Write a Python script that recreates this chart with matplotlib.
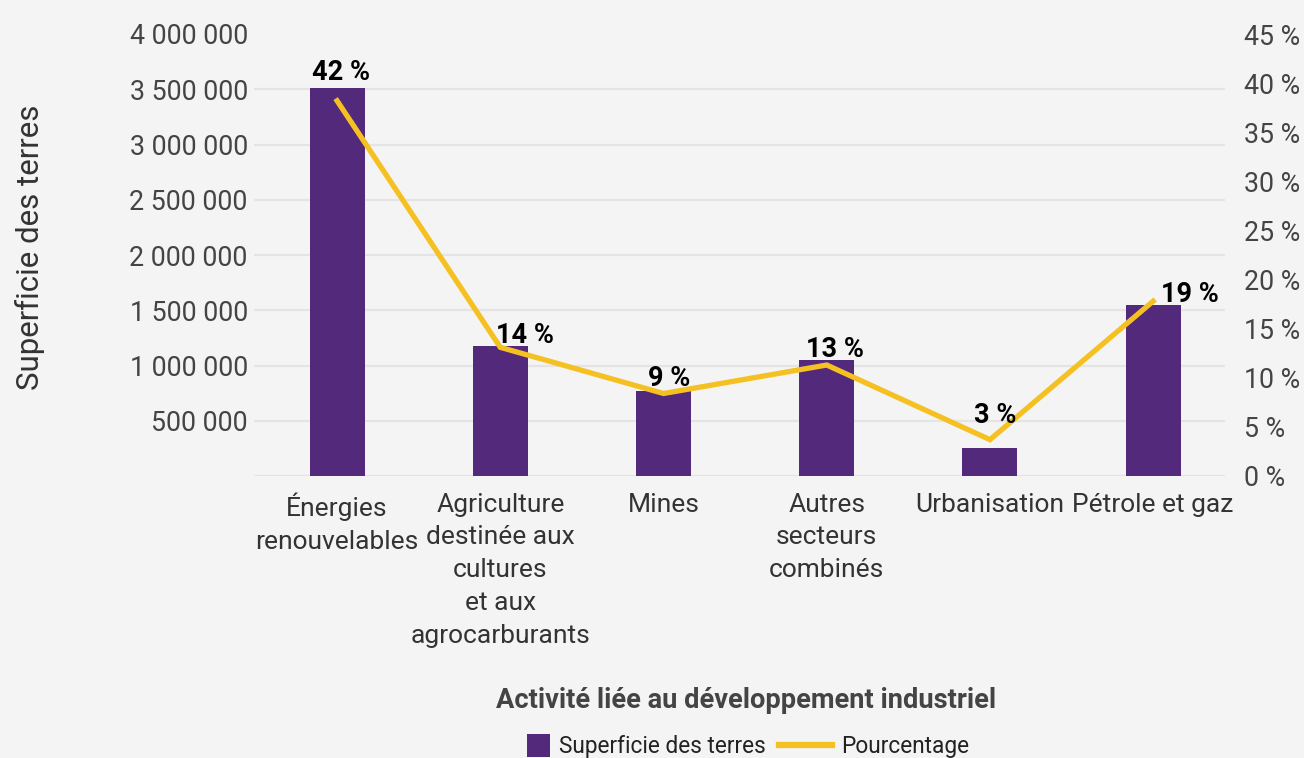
import matplotlib
matplotlib.use("Agg")
import matplotlib.pyplot as plt
from matplotlib.patches import Patch, Rectangle
from matplotlib.lines import Line2D
from matplotlib.legend_handler import HandlerPatch, HandlerLine2D

plt.rcParams['font.family'] = ['Roboto', 'DejaVu Sans']

categories = ["Énergies\nrenouvelables",
              "Agriculture\ndestinée aux\ncultures\net aux\nagrocarburants",
              "Mines",
              "Autres\nsecteurs\ncombinés",
              "Urbanisation",
              "Pétrole et gaz"]
superficie = [3510000, 1175000, 765000, 1050000, 255000, 1550000]
pourcentage_line = [38.2, 13.1, 8.4, 11.3, 3.7, 17.8]
pourcentage_labels = [42, 14, 9, 13, 3, 19]
left_ticks = [500000, 1000000, 1500000, 2000000, 2500000, 3000000, 3500000, 4000000]
right_ticks = [0, 5, 10, 15, 20, 25, 30, 35, 40, 45]

BG = "#f4f4f4"
PURPLE = "#52297b"
YELLOW = "#f5c122"
GRID = "#e4e4e4"
TXT = "#444444"

W, H = 1304, 758
fig = plt.figure(figsize=(W / 100, H / 100), dpi=100, facecolor=BG)
ax = fig.add_axes([254 / W, 1 - 476 / H, (1225 - 254) / W, (476 - 34) / H])
ax.set_facecolor(BG)
x = list(range(len(categories)))
ax.bar(x, superficie, width=0.337, color=PURPLE, zorder=3)
ax.set_xlim(-0.509, 5.44)
ax.set_ylim(0, 4000000)
ax.set_yticks(left_ticks)
ax.set_yticklabels([f"{v:,}".replace(",", " ") for v in left_ticks])
ax.set_xticks(x)
ax.set_xticklabels(categories, linespacing=1.46)
ax.tick_params(axis='x', length=0, pad=12, labelsize=19, colors="#333333")
ax.tick_params(axis='y', length=0, pad=4.5, labelsize=19.3, colors=TXT)
for s in ax.spines.values():
    s.set_visible(False)
ax.yaxis.grid(True, color=GRID, lw=1.6, zorder=0)
ax.set_axisbelow(True)
ax.get_ygridlines()[-1].set_visible(False)
ax.axhline(0, color=GRID, lw=1.6, zorder=1)

ax2 = ax.twinx()
ax2.set_ylim(0, 45)
ax2.plot(x, pourcentage_line, color=YELLOW, lw=3.8, zorder=4, solid_joinstyle='miter')
ax2.set_yticks(right_ticks)
ax2.set_yticklabels([f"{v} %" for v in right_ticks])
ax2.tick_params(axis='y', length=0, pad=14, labelsize=19.3, colors=TXT)
for s in ax2.spines.values():
    s.set_visible(False)

label_offsets = [(4, 28), (25, 12), (6, 15), (8, 16), (5, 24), (37, 7)]
for xi, v, lab, (dx, dy) in zip(x, pourcentage_line, pourcentage_labels, label_offsets):
    ax2.annotate(f"{lab} %", (xi, v), xytext=(dx * 0.72, dy * 0.72), textcoords='offset points',
                 ha='center', va='center', fontsize=19.5, fontweight='bold', color='black', zorder=5)

fig.text(30 / W, 1 - 247 / H, "Superficie des terres", rotation=90, ha='center', va='center',
         fontsize=22.5, color="#333333")
fig.text(746 / W, 1 - 700 / H, "Activité liée au développement industriel", ha='center', va='center',
         fontsize=19.6, fontweight='bold', color=TXT)


def make_square(legend, orig_handle, xdescent, ydescent, width, height, fontsize):
    s = height * 1.25
    return Rectangle((width - s - xdescent, -ydescent + (height - s) / 2), s, s)


handles = [Patch(facecolor=PURPLE, edgecolor='none'),
           Line2D([0], [0], color=YELLOW, lw=4.5)]
fig.legend(handles, ["Superficie des terres", "Pourcentage"], loc='center',
           bbox_to_anchor=(733 / W, 1 - 747 / H), ncol=2, frameon=False, fontsize=16.3,
           handlelength=2.35, handleheight=0.9, handletextpad=0.4, columnspacing=0.55,
           labelcolor="#222222",
           handler_map={Patch: HandlerPatch(patch_func=make_square),
                        Line2D: HandlerLine2D()})

fig.savefig("out.png", dpi=100, facecolor=BG)
